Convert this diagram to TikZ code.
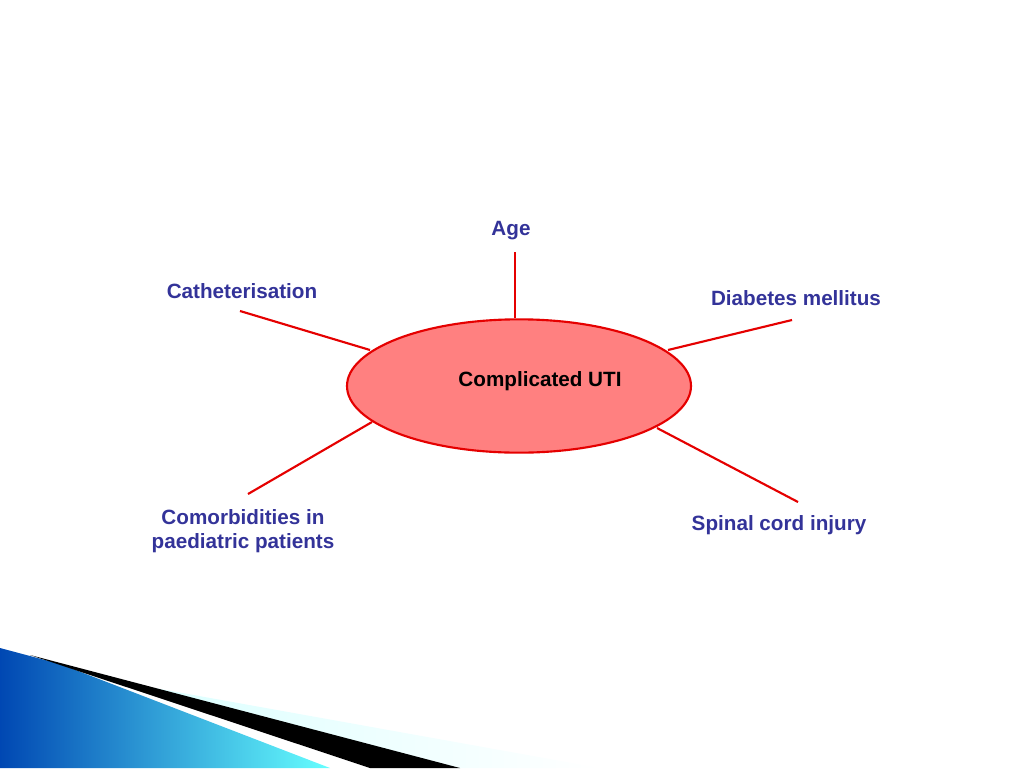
\documentclass[tikz,border=0pt]{standalone}
\usepackage{fontspec}
\usetikzlibrary{shapes.geometric}
\setmainfont{Liberation Sans}
\begin{document}
\begin{tikzpicture}[x=0.75pt,y=-0.75pt,
  lab/.style={font=\bfseries\fontsize{15.5}{18}\selectfont,align=center,inner sep=0},
  spoke/.style={red!90!black,line width=1.6pt}]
\useasboundingbox (0,0) rectangle (1024,768);
\definecolor{labblue}{HTML}{333399}
% bottom-left decoration
\shade[left color=cyan!40!blue!70!black,right color=cyan!60!white] (0,648) -- (60,664) -- (330,768) -- (0,768) -- cycle;
\shade[left color=cyan!15,right color=white] (110,680) -- (600,768) -- (440,768) -- cycle;
\fill[black] (30,655) -- (460,768) -- (370,768) -- cycle;
% ellipse
\node[ellipse,draw=red!90!black,line width=1.6pt,fill={rgb,255:red,255;green,128;blue,128},minimum width=258pt,minimum height=100pt,inner sep=0] (c) at (519,386) {};
\node[font=\bfseries\fontsize{15.5}{18}\selectfont] (ct) at (540,381) {Complicated UTI};
\tikzset{lab/.append style={text=labblue}}
\node[lab] (age) at (511,231) {Age};
\node[lab] (cat) at (242,291) {Catheterisation};
\node[lab] (dia) at (796,298) {Diabetes mellitus};
\node[lab] (com) at (243,531) {Comorbidities in\\paediatric patients};
\node[lab] (spi) at (779,525) {Spinal cord injury};
\coordinate (a1) at (515,252); \coordinate (a2) at (515,318);
\coordinate (b1) at (240,311); \coordinate (b2) at (370,350);
\coordinate (d1) at (792,320); \coordinate (d2) at (668,350);
\coordinate (e1) at (248,494); \coordinate (e2) at (372,422);
\coordinate (f1) at (798,502); \coordinate (f2) at (657,428);
\draw[spoke] (a1) -- (a2);
\draw[spoke] (b1) -- (b2);
\draw[spoke] (d1) -- (d2);
\draw[spoke] (e1) -- (e2);
\draw[spoke] (f1) -- (f2);
\end{tikzpicture}
\end{document}
